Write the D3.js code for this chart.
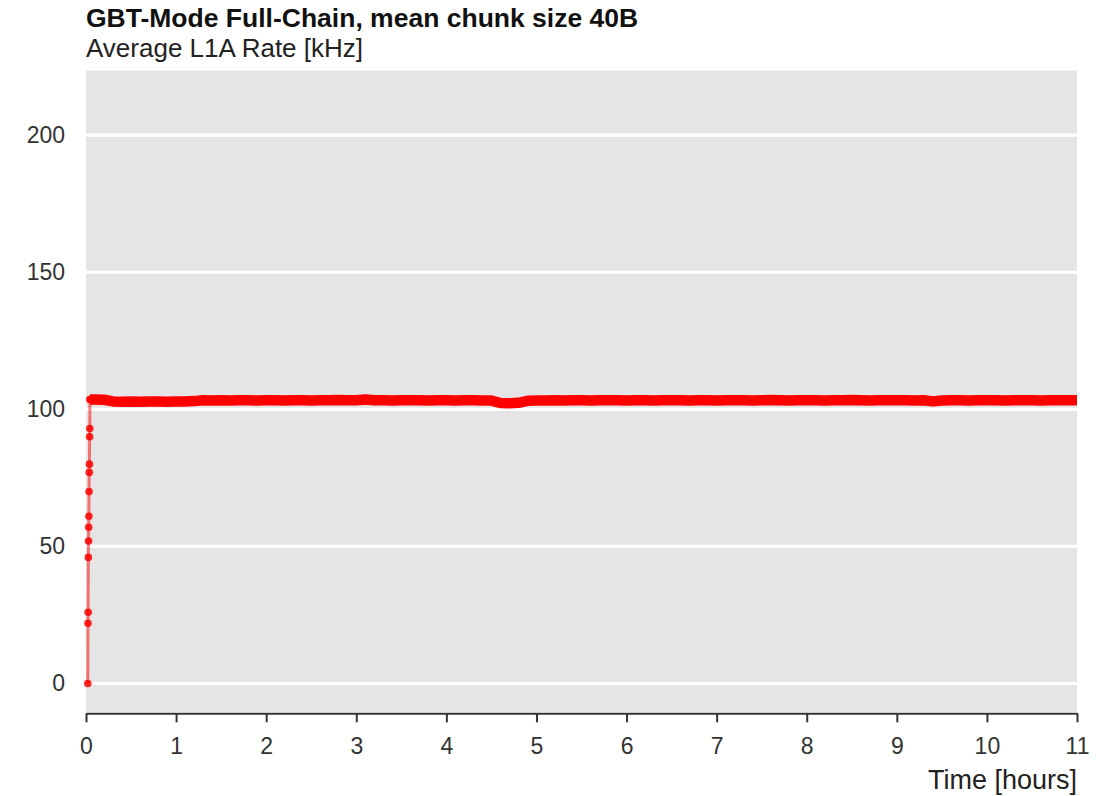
<!DOCTYPE html>
<html>
<head>
<meta charset="utf-8">
<script src="https://cdn.jsdelivr.net/npm/d3@7"></script>
<style>
  html, body { margin: 0; padding: 0; background: #ffffff; }
  svg { display: block; font-family: "Liberation Sans", Arial, sans-serif; }
</style>
</head>
<body>
<svg id="chart" width="1104" height="796"></svg>
<script>
// Start-up ramp: first seconds of the run, in hours
const rampTime = [0.020, 0.022, 0.024, 0.026, 0.028, 0.030, 0.032, 0.034, 0.036, 0.038, 0.040, 0.042, 0.044, 0.046];
const rampRate = [0, 22, 26, 46, 52, 57, 61, 70, 77, 80, 90, 93, 103.6, 103.7];

// Steady-state average L1A rate [kHz], sampled every 0.1 h
const steadyTime = d3.range(1, 111).map(i => i / 10);
const steadyRate = [
  103.6, 103.5, 102.9, 102.8, 102.9, 102.8, 102.9, 102.9, 102.8, 102.9,
  102.9, 103.0, 103.3, 103.2, 103.3, 103.2, 103.3, 103.3, 103.2, 103.3,
  103.3, 103.2, 103.3, 103.3, 103.2, 103.3, 103.3, 103.4, 103.3, 103.3,
  103.6, 103.3, 103.3, 103.2, 103.3, 103.3, 103.3, 103.2, 103.3, 103.3,
  103.2, 103.3, 103.3, 103.2, 103.2, 102.3, 102.2, 102.4, 103.1, 103.2,
  103.2, 103.3, 103.2, 103.3, 103.3, 103.2, 103.3, 103.3, 103.3, 103.2,
  103.3, 103.3, 103.2, 103.3, 103.3, 103.3, 103.2, 103.3, 103.3, 103.2,
  103.3, 103.3, 103.3, 103.2, 103.3, 103.4, 103.3, 103.2, 103.3, 103.3,
  103.3, 103.2, 103.3, 103.3, 103.4, 103.3, 103.2, 103.3, 103.3, 103.3,
  103.3, 103.2, 103.3, 102.9, 103.2, 103.3, 103.3, 103.2, 103.3, 103.3,
  103.3, 103.2, 103.3, 103.3, 103.3, 103.2, 103.3, 103.3, 103.3, 103.3
];

const xTicks = [0, 1, 2, 3, 4, 5, 6, 7, 8, 9, 10, 11];
const yTicks = [0, 50, 100, 150, 200];

const titleText = "GBT-Mode Full-Chain, mean chunk size 40B";
const subtitleText = "Average L1A Rate [kHz]";
const xLabelText = "Time [hours]";

const FONT = "'Liberation Sans', Arial, sans-serif";

const svg = d3.select("#chart");
const panel = { left: 86, right: 1077, top: 70.5, bottom: 712 };

const x = d3.scaleLinear().domain([0, 11]).range([panel.left, panel.right]);
const y = d3.scaleLinear().domain([-10.4, 223.6]).range([panel.bottom, panel.top]);

// Grey panel
svg.append("rect")
  .attr("x", panel.left).attr("y", panel.top)
  .attr("width", panel.right - panel.left)
  .attr("height", panel.bottom - panel.top)
  .attr("fill", "#e5e5e5");

// Horizontal grid lines
svg.append("g")
  .selectAll("line")
  .data(yTicks)
  .join("line")
  .attr("x1", panel.left).attr("x2", panel.right)
  .attr("y1", d => y(d)).attr("y2", d => y(d))
  .attr("stroke", "#ffffff").attr("stroke-width", 3.2);

// Y axis labels (no axis line)
const yAxis = d3.axisLeft(y).tickValues(yTicks).tickSize(0).tickPadding(21);
svg.append("g")
  .attr("transform", `translate(${panel.left},0)`)
  .call(yAxis)
  .call(g => g.select(".domain").remove())
  .call(g => g.selectAll("text")
    .attr("font-size", 23).attr("fill", "#333333")
    .attr("font-family", FONT));

// X axis
const xAxis = d3.axisBottom(x).tickValues(xTicks).tickSize(9).tickPadding(15).tickSizeOuter(0);
svg.append("g")
  .attr("transform", `translate(0,${panel.bottom + 1.3})`)
  .call(xAxis)
  .call(g => g.select(".domain").attr("stroke", "#333333").attr("stroke-width", 2))
  .call(g => g.selectAll(".tick line").attr("stroke", "#333333").attr("stroke-width", 2))
  .call(g => g.selectAll("text")
    .attr("font-size", 23).attr("fill", "#333333")
    .attr("font-family", FONT));

// Data
const ramp = rampTime.map((t, i) => ({ t, v: rampRate[i] }));
const steady = steadyTime.map((t, i) => ({ t, v: steadyRate[i] }));
const line = d3.line().x(d => x(d.t)).y(d => y(d.v));

const marks = svg.append("g");

// Start-up ramp: translucent line with points
marks.append("path")
  .datum(ramp.concat([steady[0]]))
  .attr("d", line)
  .attr("fill", "none")
  .attr("stroke", "#ff0000")
  .attr("stroke-opacity", 0.5)
  .attr("stroke-width", 3);

marks.selectAll("circle.ramp")
  .data(ramp)
  .join("circle")
  .attr("class", "ramp")
  .attr("cx", d => x(d.t)).attr("cy", d => y(d.v))
  .attr("r", 3.8)
  .attr("fill", "#ff0000")
  .attr("fill-opacity", 0.85);

// Steady-state band
marks.append("path")
  .datum([ramp[ramp.length - 2]].concat(steady))
  .attr("d", line)
  .attr("fill", "none")
  .attr("stroke", "#ff0000")
  .attr("stroke-width", 10.5)
  .attr("stroke-linejoin", "round")
  .attr("stroke-linecap", "butt");

// Titles
svg.append("text")
  .attr("x", panel.left).attr("y", 26.5)
  .attr("font-size", 26.5).attr("font-weight", "bold").attr("fill", "#111111")
  .attr("font-family", FONT)
  .text(titleText);

svg.append("text")
  .attr("x", panel.left).attr("y", 57)
  .attr("font-size", 26).attr("fill", "#222222")
  .attr("font-family", FONT)
  .text(subtitleText);

svg.append("text")
  .attr("x", panel.right).attr("y", 789)
  .attr("text-anchor", "end")
  .attr("font-size", 27).attr("fill", "#222222")
  .attr("font-family", FONT)
  .text(xLabelText);
</script>
</body>
</html>
